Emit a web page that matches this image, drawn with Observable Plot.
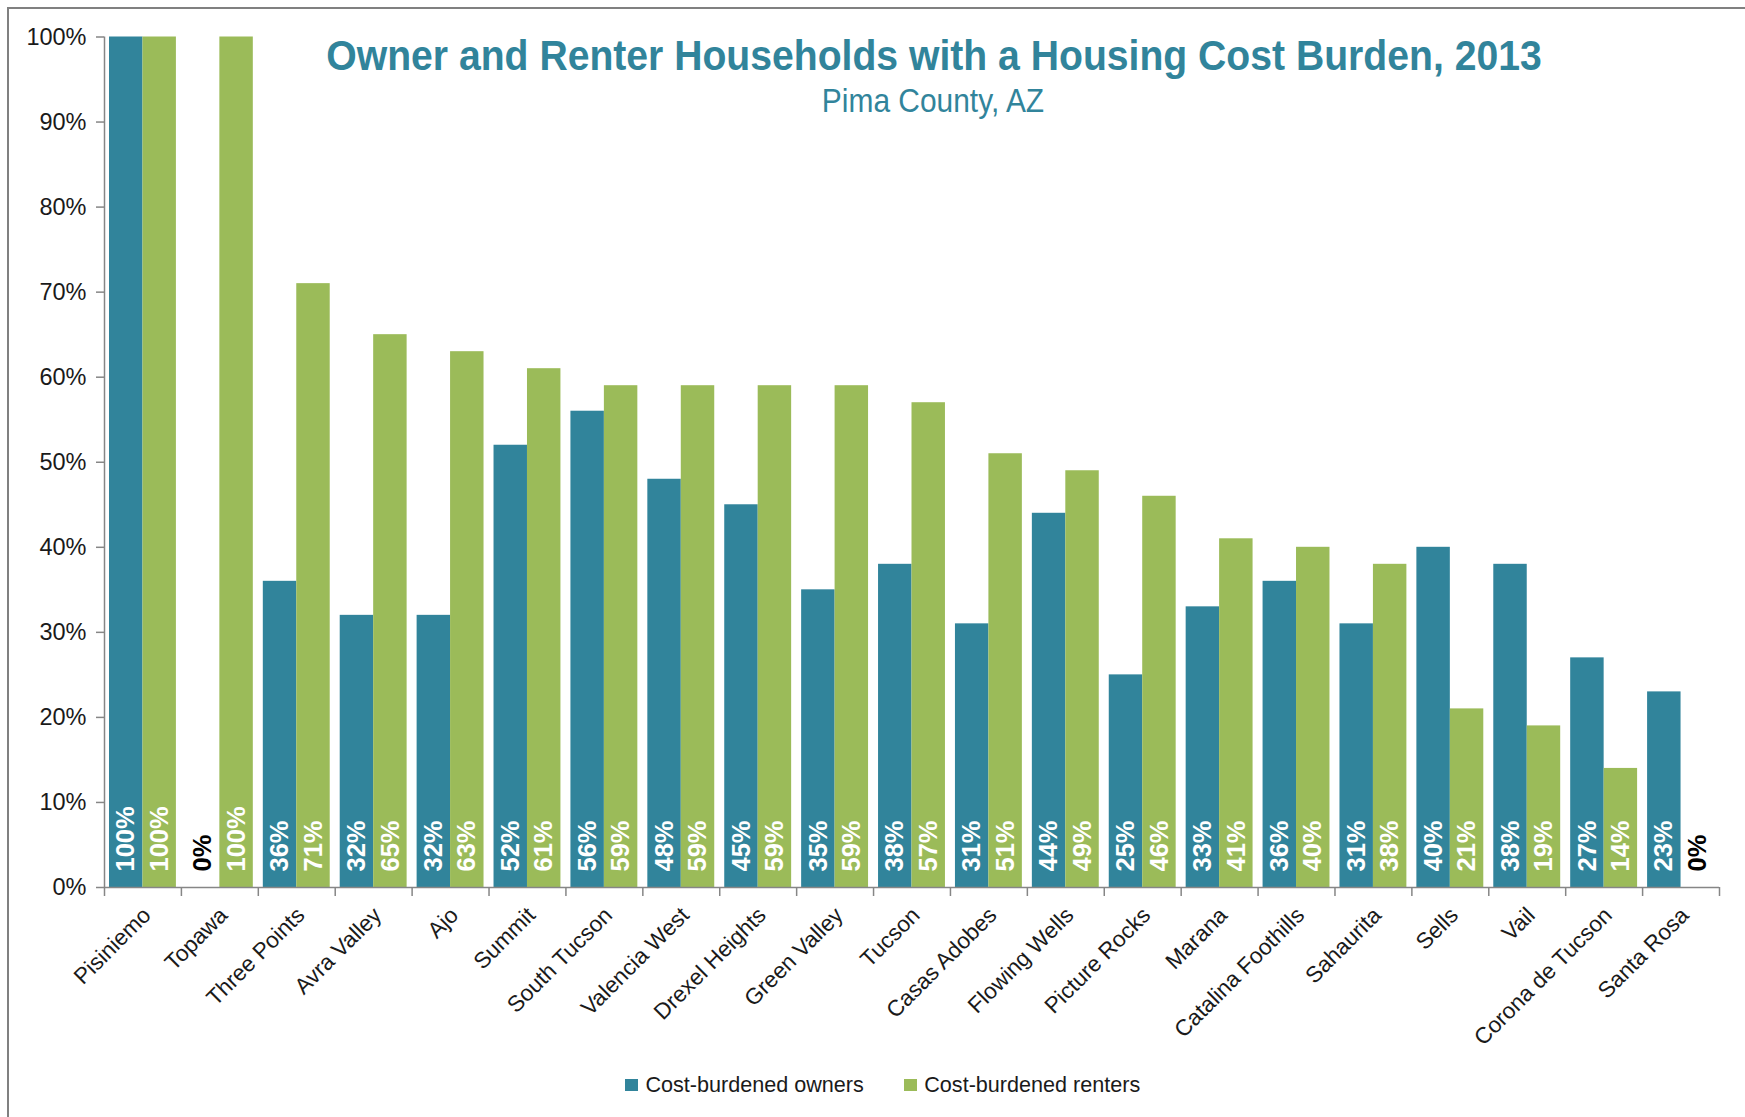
<!DOCTYPE html>
<html>
<head>
<meta charset="utf-8">
<script src="https://cdn.jsdelivr.net/npm/d3@7"></script>
<script src="https://cdn.jsdelivr.net/npm/@observablehq/plot@0.6"></script>
<style>
  html, body { margin: 0; padding: 0; background: #fff; }
  #wrap { position: relative; width: 1745px; height: 1117px; overflow: hidden; background: #fff;
          font-family: "Liberation Sans", Arial, sans-serif; }
  #frame { position: absolute; left: 7px; top: 7px; width: 1800px; height: 1200px;
           border-left: 2.5px solid #808080; border-top: 2.5px solid #808080; }
  #chart { position: absolute; left: 0; top: 0; }
  #chart svg { overflow: visible; }
  #title { position: absolute; left: 0; width: 1868px; top: 33.6px; text-align: center; white-space: nowrap;
           font-size: 43px; line-height: 43px; font-weight: bold; color: #31849B;
           transform: scaleX(0.91); transform-origin: 934px 0; }
  #subtitle { position: absolute; left: 0; width: 1866px; top: 83.2px; text-align: center; white-space: nowrap;
              font-size: 34px; line-height: 34px; color: #31849B;
              transform: scaleX(0.88); transform-origin: 933px 0; }
  #legend { position: absolute; left: 625px; top: 1072px; display: flex; align-items: center; gap: 40px;
            font-size: 21.6px; line-height: 26px; color: #1a1a1a; white-space: nowrap; }
  .item { display: flex; align-items: center; }
  .sw { width: 13.4px; height: 12px; margin-right: 7px; }
</style>
</head>
<body>
<div id="wrap">
  <div id="frame"></div>
  <div id="chart"></div>
  <div id="title"></div>
  <div id="subtitle"></div>
  <div id="legend"></div>
</div>
<script>
// ---- data ----
const titleText = "Owner and Renter Households with a Housing Cost Burden, 2013";
const subtitleText = "Pima County, AZ";
const categories = ["Pisiniemo", "Topawa", "Three Points", "Avra Valley", "Ajo", "Summit", "South Tucson",
  "Valencia West", "Drexel Heights", "Green Valley", "Tucson", "Casas Adobes", "Flowing Wells", "Picture Rocks",
  "Marana", "Catalina Foothills", "Sahaurita", "Sells", "Vail", "Corona de Tucson", "Santa Rosa"];
const owners  = [100, 0, 36, 32, 32, 52, 56, 48, 45, 35, 38, 31, 44, 25, 33, 36, 31, 40, 38, 27, 23];
const renters = [100, 100, 71, 65, 63, 61, 59, 59, 59, 59, 57, 51, 49, 46, 41, 40, 38, 21, 19, 14, 0];
const yTicks = [0, 10, 20, 30, 40, 50, 60, 70, 80, 90, 100];
const seriesNames = ["Cost-burdened owners", "Cost-burdened renters"];

// ---- style ----
const TEAL = "#31849B", GREEN = "#9BBB59", AXIS = "#868686", INK = "#1a1a1a";

function hasFont(f) {
  const c = document.createElement("canvas").getContext("2d");
  c.font = "bold 40px monospace";
  const a = c.measureText("100% Pima County").width;
  c.font = `bold 40px "${f}", monospace`;
  const b = c.measureText("100% Pima County").width;
  return a !== b;
}
const narrowOK = hasFont("Liberation Sans Narrow");
const NARROW = narrowOK ? '"Liberation Sans Narrow", "Arial Narrow", sans-serif' : '"Liberation Sans", Arial, sans-serif';

// ---- layout ----
const W = 1745, H = 1117;
const mL = 104, mR = 26, mT = 36.5, mB = 230;
const plotW = W - mL - mR, plotH = H - mT - mB;
const step = plotW / categories.length;
const padIn = 0.13;
const bw = step * (1 - padIn);

const rows = categories.map((c, i) => ({cat: c, owners: owners[i], renters: renters[i]}));

const chart = Plot.plot({
  width: W, height: H,
  marginLeft: mL, marginRight: mR, marginTop: mT, marginBottom: mB,
  style: {background: "transparent", fontFamily: '"Liberation Sans", Arial, sans-serif', color: INK, overflow: "visible"},
  x: {type: "band", domain: categories, paddingInner: padIn, paddingOuter: padIn / 2, round: false, axis: null},
  y: {domain: [0, 100], axis: null},
  marks: [
    Plot.barY(rows, {x: "cat", y: "owners", fill: TEAL, insetRight: bw / 2}),
    Plot.barY(rows, {x: "cat", y: "renters", fill: GREEN, insetLeft: bw / 2}),
    Plot.ruleY([0], {y: d => d, stroke: AXIS, strokeWidth: 1.5}),
    Plot.ruleX([categories[0]], {x: d => d, dx: -step / 2, stroke: AXIS, strokeWidth: 1.5}),
    Plot.ruleX(categories, {x: d => d, dx: -step / 2, insetTop: plotH, insetBottom: -9, stroke: AXIS, strokeWidth: 1.5}),
    Plot.ruleX([categories[categories.length - 1]], {x: d => d, dx: step / 2, insetTop: plotH, insetBottom: -9, stroke: AXIS, strokeWidth: 1.5}),
    Plot.ruleY(yTicks, {y: d => d, insetLeft: -8, insetRight: plotW, stroke: AXIS, strokeWidth: 1.5}),
    Plot.text(yTicks, {y: d => d, text: d => d + "%", frameAnchor: "left", textAnchor: "end", dx: -18,
      fontSize: 23.5, fill: INK}),
    Plot.text(categories, {x: d => d, text: d => d, frameAnchor: "bottom", rotate: -45, textAnchor: "end",
      lineAnchor: "middle", dx: 4, dy: 24, fontSize: 22.5, fill: INK}),
    Plot.text(rows, {x: "cat", text: d => d.owners + "%", frameAnchor: "bottom", rotate: -90, textAnchor: "start",
      lineAnchor: "middle", dx: -bw / 4, dy: -16, fill: d => d.owners === 0 ? "#000000" : "#ffffff",
      fontWeight: "bold", fontSize: 25.5, fontFamily: NARROW, ariaLabel: "value-labels"}),
    Plot.text(rows, {x: "cat", text: d => d.renters + "%", frameAnchor: "bottom", rotate: -90, textAnchor: "start",
      lineAnchor: "middle", dx: bw / 4, dy: -16, fill: d => d.renters === 0 ? "#000000" : "#ffffff",
      fontWeight: "bold", fontSize: 25.5, fontFamily: NARROW, ariaLabel: "value-labels"})
  ]
});
document.getElementById("chart").appendChild(chart);

if (!narrowOK) {
  chart.querySelectorAll('g[aria-label="value-labels"] text').forEach(t => {
    t.setAttribute("transform", (t.getAttribute("transform") || "") + " scale(0.82,1)");
  });
}

// ---- titles ----
document.getElementById("title").textContent = titleText;
document.getElementById("subtitle").textContent = subtitleText;

// ---- legend ----
const legend = document.getElementById("legend");
[TEAL, GREEN].forEach((col, i) => {
  const item = document.createElement("div");
  item.className = "item";
  const sw = document.createElement("span");
  sw.className = "sw";
  sw.style.background = col;
  const lab = document.createElement("span");
  lab.textContent = seriesNames[i];
  item.appendChild(sw); item.appendChild(lab);
  legend.appendChild(item);
});
</script>
</body>
</html>
